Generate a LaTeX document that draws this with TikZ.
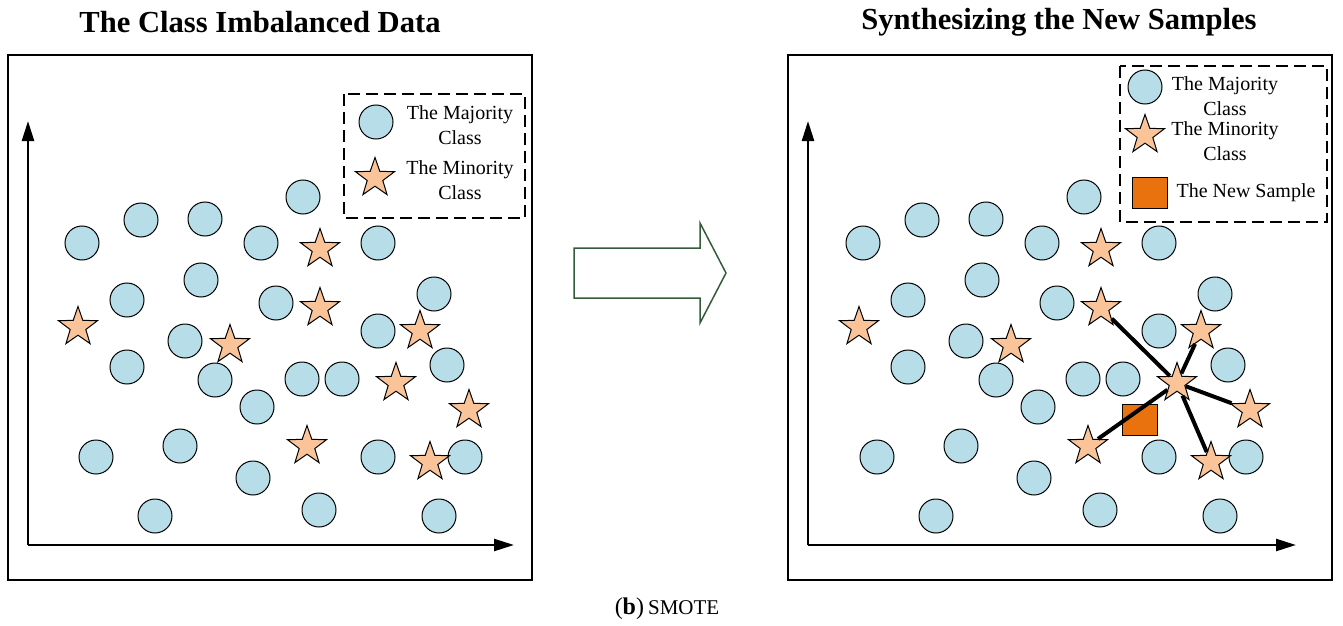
\documentclass[tikz,border=0pt]{standalone}
\usepackage{fontspec}
\setmainfont{Liberation Serif}
\usepackage{tikz}
\usetikzlibrary{shapes.geometric,arrows.meta}

\definecolor{majfill}{RGB}{183,222,232}
\definecolor{minfill}{RGB}{250,196,152}
\definecolor{newfill}{RGB}{233,113,14}
\definecolor{arrgreen}{RGB}{52,92,58}

\tikzset{
	maj/.style={circle,draw,fill=majfill,minimum size=17pt,inner sep=0pt,line width=0.5pt},
	mino/.style={star,star points=5,star point ratio=2.5,draw,fill=minfill,minimum size=20.5pt,inner sep=0pt,line width=0.5pt},
	newsmp/.style={rectangle,draw,fill=newfill,minimum width=17.5pt,minimum height=15.5pt,inner sep=0pt,line width=0.5pt},
	legtxt/.style={align=center,font=\fontsize{10}{12.5}\selectfont,inner sep=0pt},
	ttl/.style={font=\fontsize{15.3}{17}\selectfont\bfseries,inner sep=0pt},
	axis/.style={line width=1.2pt,-{Triangle[length=10pt,width=6pt]}},
	legbox/.style={line width=1pt,dash pattern=on 6pt off 3pt},
	link/.style={line width=2pt}
}

\begin{document}
\begin{tikzpicture}[x=0.5pt,y=-0.5pt]
	\useasboundingbox (0,0) rectangle (1343,626);
	% titles
	\node[ttl] (ttlL) at (260,22) {The Class Imbalanced Data};
	\node[ttl] (ttlR) at (1059,22) {Synthesizing the New Samples};
	% panels and axes
	\draw[line width=0.9pt] (8,55) rectangle (532,580);
	\draw[line width=0.9pt] (788,55) rectangle (1332,580);
	\coordinate (oL) at (28,545);
	\coordinate (oR) at (808,545);
	\draw[axis] (oL) -- (28,121);
	\draw[axis] (oL) -- (514,545);
	\draw[axis] (oR) -- (808,121);
	\draw[axis] (oR) -- (1296,545);
	% the data, same in both panels
	\foreach \dx/\p in {0/l,781/r}{
		\foreach \x/\y in {82/243,141/220,205/219,261/243,303/197,378/243,201/280,127/300,276/303,434/294,185/341,127/367,378/331,447/365,215/380,302/379,342/379,257/407,96/457,180/446,253/478,378/457,465/457,155/516,319/510,439/516}
			\node[maj] at (\x+\dx,\y) {};
		\foreach \x/\y [count=\i] in {320/249,78/327,230/345,320/308,420/331,396/383,469/410,307/446,430/462}
			\node[mino] (\p\i) at (\x+\dx,\y) {};
	}
	% new sample and links
	\node[newsmp] (smp) at (1140,420) {};
	\draw[link] (r6) -- (r4);
	\draw[link] (r6) -- (r5);
	\draw[link] (r6) -- (r7);
	\draw[link] (r6) -- (r9);
	\draw[link] (r6) -- (r8);
	% legends
	\draw[legbox] (344,94) rectangle (525,218);
	\node[maj] (lgcL) at (376,122) {};
	\node[mino] (lgsL) at (375,178) {};
	\node[legtxt] (lgtL1) at (460,125) {The Majority\\Class};
	\node[legtxt] (lgtL2) at (460,180) {The Minority\\Class};
	\draw[legbox] (1120,66) rectangle (1327,222);
	\node[maj] (lgcR) at (1145,87) {};
	\node[mino] (lgsR) at (1145,135) {};
	\node[newsmp] (lgqR) at (1150,193) {};
	\node[legtxt] (lgtR1) at (1225,96) {The Majority\\Class};
	\node[legtxt] (lgtR2) at (1225,141) {The Minority\\Class};
	\node[legtxt] (lgtR3) at (1246,193) {The New Sample};
	% block arrow
	\draw[arrgreen,line width=0.75pt] (574,248) -- (700,248) -- (700,223) -- (726,273) -- (700,323) -- (700,298) -- (574,298) -- cycle;
	% caption
	\node[inner sep=0pt] (cap) at (667,609) {\fontsize{12}{14}\selectfont(\textbf{b})\,{\fontsize{10.5}{12}\selectfont SMOTE}};
\end{tikzpicture}
\end{document}
